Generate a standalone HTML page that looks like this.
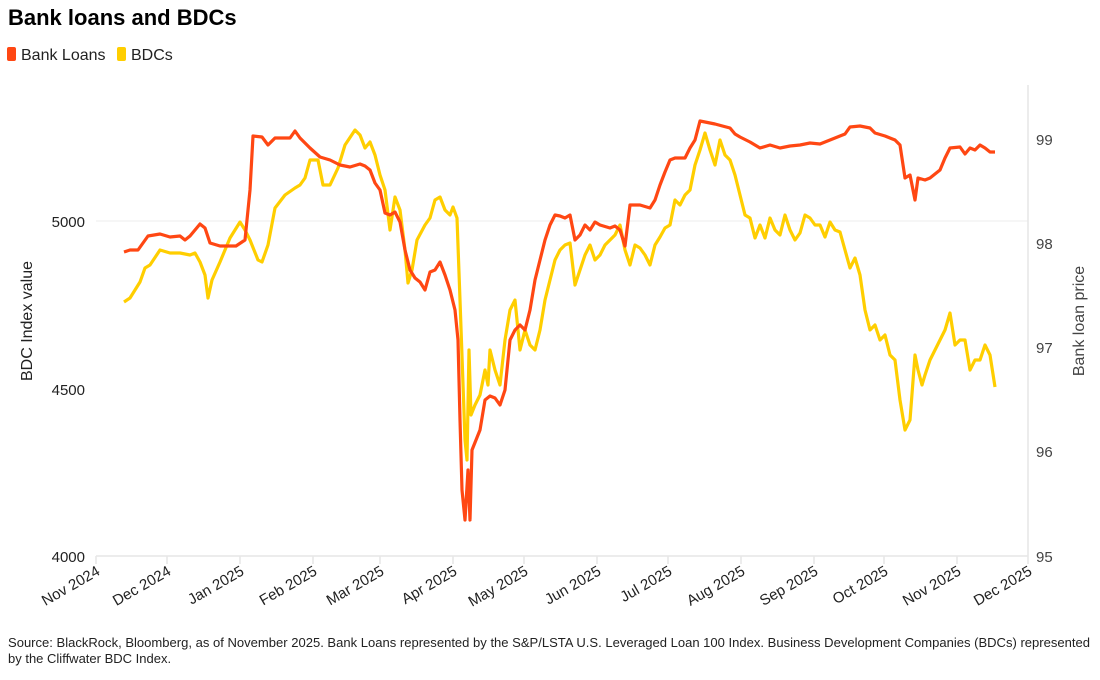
<!DOCTYPE html>
<html><head><meta charset="utf-8"><style>
body{margin:0;background:#fff;}
svg{display:block;font-family:"Liberation Sans",sans-serif;}
</style></head><body>
<svg width="1100" height="680" viewBox="0 0 1100 680" xmlns="http://www.w3.org/2000/svg">
<text x="8" y="25" font-size="22" font-weight="bold" fill="#000">Bank loans and BDCs</text>
<rect x="7" y="47" width="9" height="14" rx="2" fill="#ff4713"/>
<text x="21" y="60" font-size="16" fill="#222">Bank Loans</text>
<rect x="117" y="47" width="9" height="14" rx="2" fill="#ffce00"/>
<text x="131" y="60" font-size="16" fill="#222">BDCs</text>
<line x1="96" y1="221" x2="1028" y2="221" stroke="#ececec" stroke-width="1"/>
<line x1="96" y1="556" x2="1028" y2="556" stroke="#e6e6e6" stroke-width="1.5"/>
<line x1="1028" y1="85" x2="1028" y2="556" stroke="#e6e6e6" stroke-width="1.5"/>
<g stroke="#e6e6e6" stroke-width="1.5">
<line x1="96" y1="556" x2="96" y2="564"/><line x1="167" y1="556" x2="167" y2="564"/><line x1="240" y1="556" x2="240" y2="564"/><line x1="313" y1="556" x2="313" y2="564"/><line x1="380" y1="556" x2="380" y2="564"/><line x1="453" y1="556" x2="453" y2="564"/><line x1="524" y1="556" x2="524" y2="564"/><line x1="597" y1="556" x2="597" y2="564"/><line x1="668" y1="556" x2="668" y2="564"/><line x1="741" y1="556" x2="741" y2="564"/><line x1="814" y1="556" x2="814" y2="564"/><line x1="884" y1="556" x2="884" y2="564"/><line x1="957" y1="556" x2="957" y2="564"/><line x1="1028" y1="556" x2="1028" y2="564"/>
</g>
<g font-size="15" fill="#222" text-anchor="end">
<text x="85" y="227">5000</text><text x="85" y="395">4500</text><text x="85" y="562">4000</text>
</g>
<g font-size="15" fill="#444">
<text x="1036" y="145">99</text><text x="1036" y="249">98</text><text x="1036" y="353">97</text><text x="1036" y="457">96</text><text x="1036" y="562">95</text>
</g>
<text transform="translate(32,321) rotate(-90)" font-size="16" fill="#222" text-anchor="middle">BDC Index value</text>
<text transform="translate(1084,321) rotate(-90)" font-size="16" fill="#444" text-anchor="middle">Bank loan price</text>
<g font-size="15" fill="#222" text-anchor="end">
<text transform="translate(101,574) rotate(-30)">Nov 2024</text>
<text transform="translate(172,574) rotate(-30)">Dec 2024</text>
<text transform="translate(245,574) rotate(-30)">Jan 2025</text>
<text transform="translate(318,574) rotate(-30)">Feb 2025</text>
<text transform="translate(385,574) rotate(-30)">Mar 2025</text>
<text transform="translate(458,574) rotate(-30)">Apr 2025</text>
<text transform="translate(529,574) rotate(-30)">May 2025</text>
<text transform="translate(602,574) rotate(-30)">Jun 2025</text>
<text transform="translate(673,574) rotate(-30)">Jul 2025</text>
<text transform="translate(746,574) rotate(-30)">Aug 2025</text>
<text transform="translate(819,574) rotate(-30)">Sep 2025</text>
<text transform="translate(889,574) rotate(-30)">Oct 2025</text>
<text transform="translate(962,574) rotate(-30)">Nov 2025</text>
<text transform="translate(1033,574) rotate(-30)">Dec 2025</text>
</g>
<polyline fill="none" stroke="#ffce00" stroke-width="3.2" stroke-linejoin="round" points="124,302 130,298 135,290 140,282 145,268 150,265 160,250 170,253 180,253 190,255 195,253 200,262 205,275 208,298 212,280 220,262 230,238 240,222 245,230 250,240 258,260 262,262 268,245 275,208 285,195 295,188 300,185 305,178 310,160 318,160 323,185 330,185 338,168 345,145 355,130 360,135 365,148 370,142 375,155 380,175 385,190 390,230 395,197 400,210 405,250 408,283 412,270 417,240 425,225 430,218 435,200 440,197 445,210 450,215 453,207 457,218 460,300 465,440 467,460 469,350 471,415 475,405 480,395 485,370 488,385 490,350 495,370 500,385 505,340 510,310 515,300 520,350 525,330 530,345 535,350 540,330 545,300 550,280 555,260 560,250 565,245 570,243 575,285 580,270 585,255 590,245 595,260 600,255 605,245 610,240 615,235 620,225 625,250 630,265 635,245 640,248 645,255 650,265 655,245 660,237 665,228 670,225 675,200 680,205 685,195 690,190 695,165 700,150 705,133 710,150 715,165 720,140 725,155 730,160 735,175 740,195 745,215 750,218 755,238 760,225 765,238 770,218 775,230 780,235 785,215 790,230 795,240 800,233 805,215 810,218 815,225 820,225 825,237 830,222 835,230 840,232 845,250 850,268 855,258 860,275 865,310 870,330 875,325 880,340 885,335 890,355 895,360 900,400 905,430 910,420 915,355 918,370 922,385 925,375 930,360 935,350 940,340 945,330 950,313 955,345 960,340 965,340 970,370 975,360 980,360 985,345 990,355 995,387"/>
<polyline fill="none" stroke="#ff4713" stroke-width="3.2" stroke-linejoin="round" points="124,252 130,250 138,250 143,243 148,236 160,234 170,237 180,236 185,240 190,236 195,230 200,224 205,228 210,243 220,246 228,246 236,246 245,240 250,190 253,136 262,137 268,145 275,138 290,138 295,131 300,138 310,148 320,157 330,160 340,165 350,167 360,164 365,166 370,170 375,183 380,190 385,213 390,215 395,212 400,222 405,250 410,270 415,278 420,282 425,290 430,272 435,270 440,262 445,275 450,290 455,310 458,340 460,420 462,490 465,520 468,470 470,520 472,450 476,440 480,430 485,400 490,396 495,398 500,405 505,390 510,340 515,330 520,325 525,330 530,310 535,280 540,260 545,240 550,225 555,215 560,216 565,218 570,215 575,240 580,235 585,225 590,230 595,222 600,225 610,228 615,226 620,230 625,246 630,205 640,205 650,208 655,200 660,185 665,172 670,160 675,158 685,158 690,148 695,140 700,121 705,122 715,124 730,128 735,134 740,137 750,142 760,148 770,145 780,148 790,146 800,145 810,143 820,144 830,140 840,136 845,134 850,127 860,126 870,128 875,133 885,136 895,140 900,145 905,178 910,175 915,200 918,178 925,180 930,178 940,170 945,158 950,148 960,147 965,154 970,148 975,150 980,145 985,148 990,152 995,152"/>
<text x="8" y="647" font-size="13" fill="#222" textLength="1082" lengthAdjust="spacingAndGlyphs">Source: BlackRock, Bloomberg, as of November 2025. Bank Loans represented by the S&amp;P/LSTA U.S. Leveraged Loan 100 Index. Business Development Companies (BDCs) represented</text>
<text x="8" y="663" font-size="13" fill="#222">by the Cliffwater BDC Index.</text>
</svg>
</body></html>
